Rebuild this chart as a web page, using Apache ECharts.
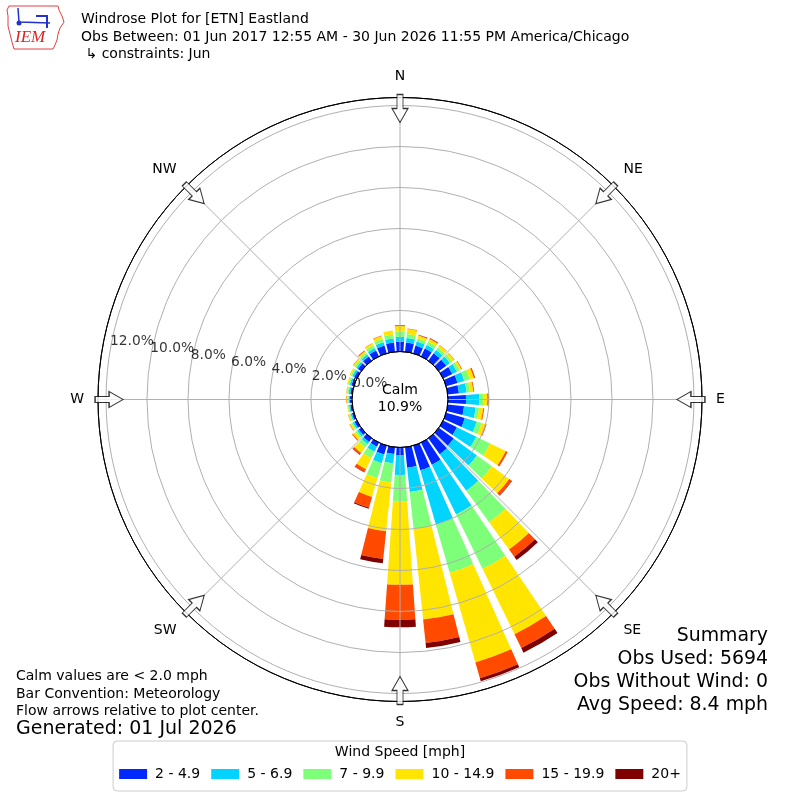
<!DOCTYPE html>
<html>
<head>
<meta charset="utf-8">
<script src="https://cdn.jsdelivr.net/npm/echarts@6/dist/echarts.min.js"></script>
<style>html,body{margin:0;padding:0;background:#fff}#c{width:800px;height:800px}</style>
</head>
<body>
<div id="c"></div>
<script>
// ---------------- data ----------------
const directions = [0,10,20,30,40,50,60,70,80,90,100,110,120,130,140,150,160,170,180,190,200,210,220,230,240,250,260,270,280,290,300,310,320,330,340,350];
const speedBins = ['2 - 4.9','5 - 6.9','7 - 9.9','10 - 14.9','15 - 19.9','20+'];
// percent of observations per direction for each speed bin
const spd2to5   = [0.48,0.45,0.40,0.42,0.45,0.45,0.50,0.58,0.55,0.88,0.80,0.95,0.75,0.90,0.96,1.20,1.25,1.00,0.37,0.33,0.45,0.22,0.22,0.15,0.13,0.10,0.10,0.10,0.10,0.13,0.15,0.20,0.25,0.32,0.40,0.45];
const spd5to7   = [0.24,0.22,0.20,0.20,0.20,0.22,0.25,0.34,0.38,0.65,0.57,0.60,1.05,1.40,2.20,2.70,2.75,1.20,0.97,0.46,0.44,0.28,0.13,0.10,0.09,0.07,0.06,0.07,0.08,0.09,0.10,0.10,0.12,0.14,0.17,0.20];
const spd7to10  = [0.25,0.20,0.15,0.17,0.15,0.14,0.15,0.28,0.16,0.19,0.17,0.25,0.75,0.90,1.90,2.95,2.45,1.80,1.30,0.94,0.76,0.34,0.20,0.10,0.08,0.06,0.05,0.05,0.06,0.07,0.08,0.10,0.10,0.14,0.16,0.20];
const spd10to15 = [0.27,0.25,0.15,0.15,0.13,0.12,0.10,0.21,0.17,0.20,0.20,0.20,0.85,1.05,1.65,3.55,4.55,4.45,4.06,2.39,0.95,0.60,0.33,0.15,0.08,0.06,0.04,0.06,0.05,0.06,0.07,0.08,0.10,0.11,0.15,0.19];
const spd15to20 = [0.05,0.02,0.03,0.04,0.02,0.02,0.03,0.07,0.04,0.07,0.05,0.05,0.10,0.15,0.43,0.75,0.80,1.15,1.71,1.36,0.55,0.16,0.10,0.05,0.02,0.01,0.00,0.02,0.01,0.00,0.00,0.02,0.03,0.01,0.02,0.00];
const spd20plus = [0.00,0.00,0.02,0.02,0.00,0.00,0.00,0.00,0.00,0.01,0.00,0.00,0.00,0.02,0.20,0.25,0.15,0.25,0.36,0.21,0.05,0.02,0.02,0.00,0.00,0.00,0.00,0.00,0.00,0.00,0.00,0.00,0.01,0.00,0.00,0.00];
const ringTicks = [0,2,4,6,8,10,12];
const compassDirs = [0,45,90,135,180,225,270,315];
const compassNames = ['N','NE','E','SE','S','SW','W','NW'];
const calmPct = 10.9;
const summaryLines = ['Summary','Obs Used: 5694','Obs Without Wind: 0','Avg Speed: 8.4 mph'];
const noteLines = ['Calm values are < 2.0 mph','Bar Convention: Meteorology','Flow arrows relative to plot center.'];

// ---------------- styling ----------------
const FONT = 'DejaVu Sans';
const speedColors = ['#0028ff','#00d4ff','#7dff7a','#ffe500','#ff4a00','#800000'];
const CENTER = [400, 399.5];
const RADIUS = [48, 302];
const RMAX = 12.39;
const GRID = '#b0b0b0';

const chart = echarts.init(document.getElementById('c'));
const seriesValues = [spd2to5, spd5to7, spd7to10, spd10to15, spd15to20, spd20plus];

const barSeries = speedBins.map((name, i) => ({
  name, type: 'bar', coordinateSystem: 'polar', polarIndex: 0, stack: 'rose',
  data: seriesValues[i], barCategoryGap: '20%',
  itemStyle: { color: speedColors[i] }, silent: true, z: 2
}));

function txt(text, x, y, size, align, extra) {
  return Object.assign({
    type: 'text', x: x, y: y, silent: true, z: 50,
    style: { text: text, fill: '#000', fontSize: size, fontFamily: FONT, align: align || 'left', verticalAlign: 'middle' }
  }, extra || {});
}

const graphics = [
  txt('Windrose Plot for [ETN] Eastland', 81, 19, 14),
  txt('Obs Between: 01 Jun 2017 12:55 AM - 30 Jun 2026 11:55 PM America/Chicago', 81, 37, 14),
  txt(' \u21b3 constraints: Jun', 81, 54, 14),
  txt('Calm', 400, 390, 14, 'center'),
  txt(calmPct.toFixed(1) + '%', 400, 407, 14, 'center'),
  txt(noteLines[0], 16, 676, 14),
  txt(noteLines[1], 16, 694, 14),
  txt(noteLines[2], 16, 711, 14),
  txt('Generated: 01 Jul 2026', 16, 729, 19),
  txt('Wind Speed [mph]', 400, 752, 14, 'center'),
  // IEM logo
  { type: 'polygon', silent: true, z: 50,
    shape: { points: [[9,6],[58,6],[59,10],[62,16],[64,22],[60,28],[58,34],[57,40],[55,45],[53,49],[14,49],[12,42],[10,34],[8,26],[8,16],[7,10]] },
    style: { fill: 'none', stroke: '#e04040', lineWidth: 1 } },
  { type: 'polyline', silent: true, z: 50, shape: { points: [[18,8],[19,22],[50,23]] }, style: { stroke: '#2233cc', lineWidth: 1.5, fill: 'none' } },
  { type: 'polyline', silent: true, z: 50, shape: { points: [[36,16],[47,16],[47,28]] }, style: { stroke: '#2233cc', lineWidth: 2, fill: 'none' } },
  { type: 'circle', silent: true, z: 50, shape: { cx: 19, cy: 23, r: 2.5 }, style: { fill: '#2233cc' } },
  txt('IEM', 15, 38, 17, 'left', { style: { text: 'IEM', fill: '#dd2222', fontSize: 17, fontFamily: 'Liberation Serif', fontStyle: 'italic', align: 'left', verticalAlign: 'middle' } })
];
summaryLines.forEach((s, i) => graphics.push(txt(s, 768, 636 + i * 23, 18.9, 'right')));

const option = {
  animation: false,
  backgroundColor: '#fff',
  textStyle: { fontFamily: FONT },
  polar: [
    { center: CENTER, radius: RADIUS },
    { center: CENTER, radius: RADIUS }
  ],
  angleAxis: [
    { polarIndex: 0, type: 'category', data: directions.map(String), startAngle: 95, clockwise: true,
      axisLine: { show: false }, axisTick: { show: false }, axisLabel: { show: false }, splitLine: { show: false } },
    { polarIndex: 1, type: 'value', min: 0, max: 360, interval: 45, startAngle: 90, clockwise: true, z: 10,
      axisLine: { show: true, lineStyle: { color: '#000', width: 1 } },
      axisTick: { show: false },
      axisLabel: { show: true, margin: 14, fontSize: 14, color: '#000', fontFamily: FONT,
        formatter: v => { const k = compassDirs.indexOf(v); return k >= 0 ? compassNames[k] : ''; } },
      splitLine: { show: true, lineStyle: { color: GRID, width: 1 } } }
  ],
  radiusAxis: [
    { polarIndex: 0, type: 'value', min: 0, max: RMAX, show: false,
      axisLine: { show: false }, axisTick: { show: false }, axisLabel: { show: false }, splitLine: { show: false } },
    { polarIndex: 1, type: 'value', min: 0, max: RMAX, interval: 2, z: 10,
      axisLine: { show: false }, axisTick: { show: false }, axisLabel: { show: false },
      splitLine: { show: true, lineStyle: { width: 1, color: ['#000', GRID, GRID, GRID, GRID, GRID, GRID, '#000'] } } }
  ],
  legend: {
    left: 'center', top: 741, orient: 'horizontal',
    itemWidth: 28, itemHeight: 10, itemGap: 11, icon: 'rect',
    padding: [26, 6, 10, 6],
    borderColor: '#cccccc', borderWidth: 1, borderRadius: 4, backgroundColor: '#fff',
    selectedMode: false,
    textStyle: { fontSize: 14, color: '#000', fontFamily: FONT, padding: [0, 0, 0, 3] },
    data: speedBins
  },
  graphic: graphics,
  series: barSeries.concat([
    { type: 'scatter', coordinateSystem: 'polar', polarIndex: 1, z: 15, silent: true,
      symbol: 'circle', symbolSize: 1, itemStyle: { color: 'rgba(0,0,0,0)' },
      data: ringTicks.map(t => [t, 280]),
      label: { show: true, position: [0, 0], align: 'left', verticalAlign: 'bottom', color: '#000',
        fontSize: 13.8, fontFamily: FONT, formatter: p => p.value[0].toFixed(1) + '%' } },
    { type: 'scatter', coordinateSystem: 'polar', polarIndex: 1, z: 20, silent: true,
      symbol: 'path://M8,0 L16,14 L11,14 L11,28 L5,28 L5,14 L0,14 Z', symbolSize: [16, 28],
      itemStyle: { color: '#fff', borderColor: '#000', borderWidth: 1.1 },
      data: compassDirs.map(d => ({ value: [11.85, d], symbolRotate: 180 - d })) }
  ])
};
chart.setOption(option);
</script>
</body>
</html>
